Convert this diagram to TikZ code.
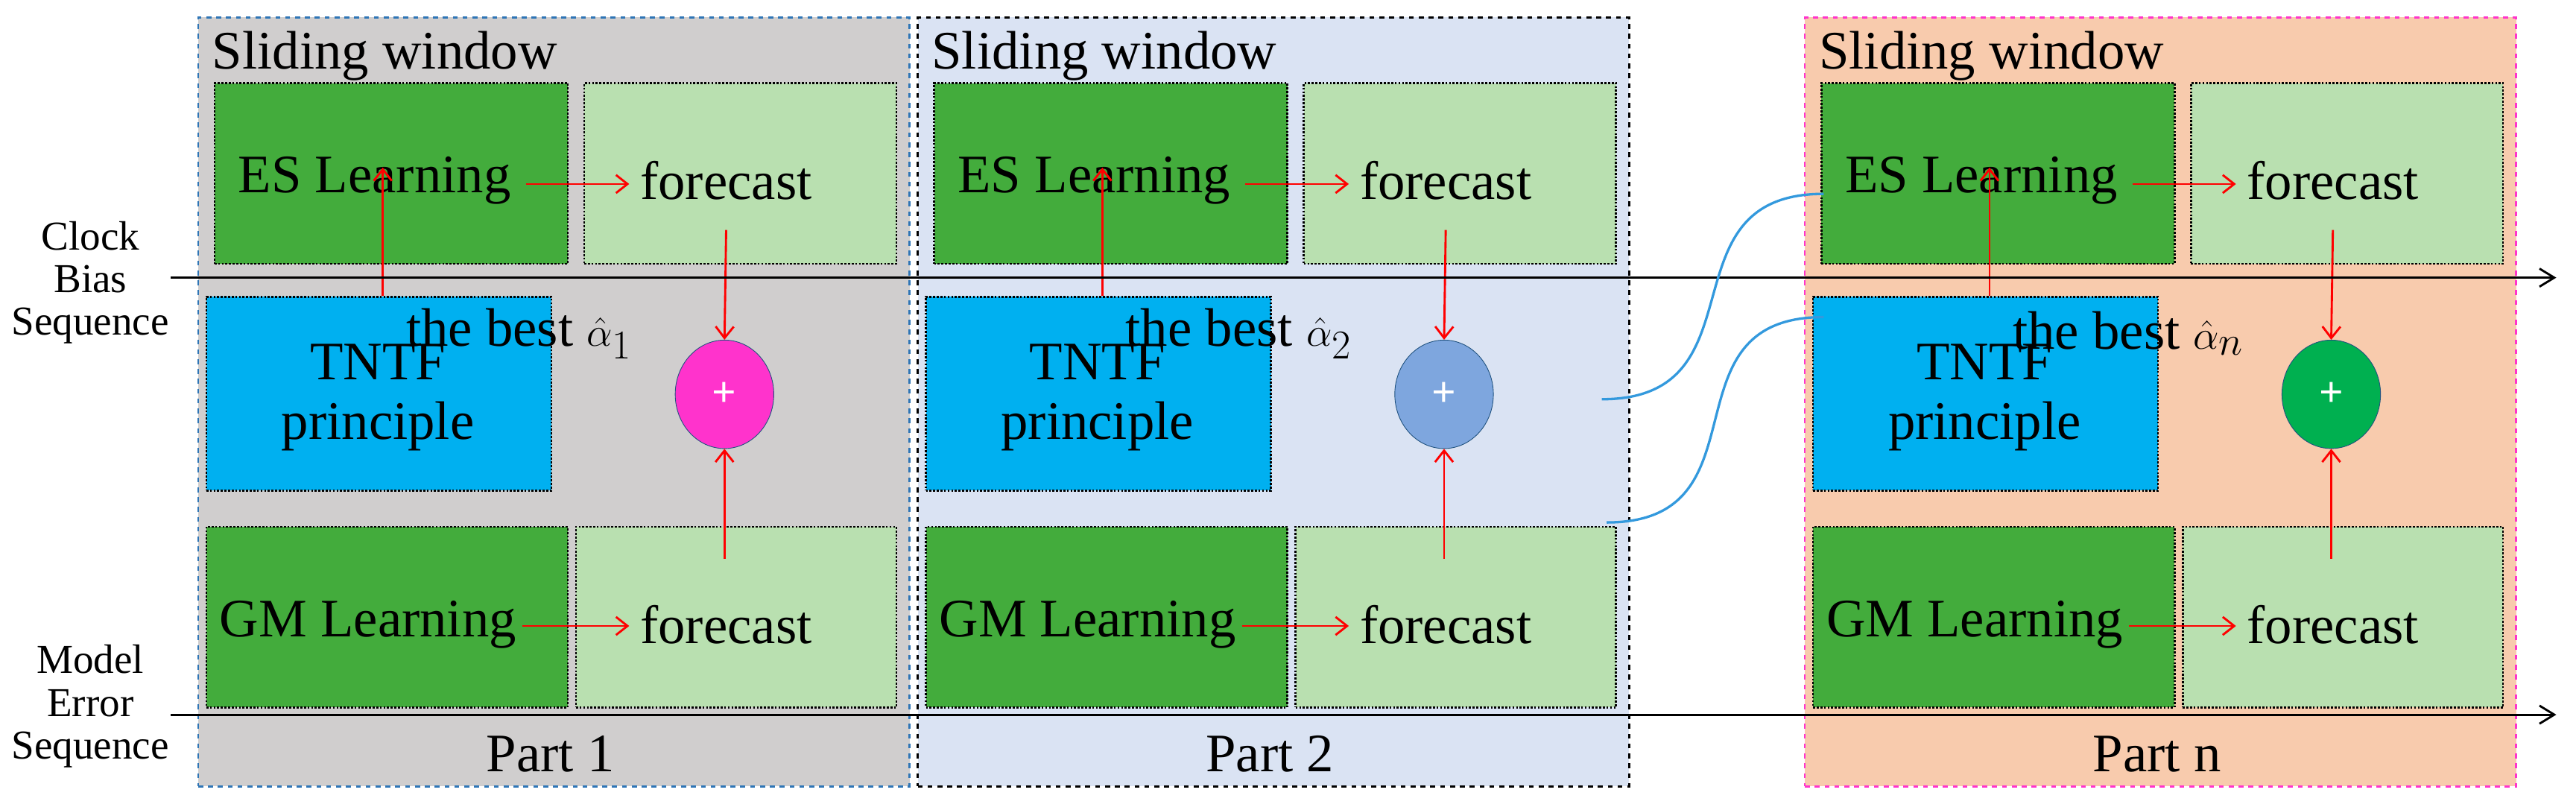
\documentclass[tikz,border=0pt]{standalone}
\usepackage{fontspec}
\setmainfont{Liberation Serif}
\usetikzlibrary{arrows.meta,shapes.geometric}
\definecolor{dg}{HTML}{43AC3C}
\definecolor{lg}{HTML}{B9E0B0}
\definecolor{cy}{HTML}{00B0F0}
\definecolor{pgray}{HTML}{D0CECE}
\definecolor{pblue}{HTML}{DAE3F3}
\definecolor{ppeach}{HTML}{F8CBAD}
\definecolor{bblue}{HTML}{2E75B6}
\definecolor{mag}{HTML}{FF33CC}
\definecolor{cblue}{HTML}{7EA6DE}
\definecolor{cgreen}{HTML}{00B050}
\definecolor{curv}{HTML}{3399DD}
\begin{document}
\begin{tikzpicture}[x=1pt,y=-1pt,
  box/.style={draw=black,densely dotted,line width=1.2pt,anchor=north west,inner sep=0pt},
  txt/.style={font=\fontsize{33}{35}\selectfont,inner sep=1pt},
  red/.style={draw=red,line width=1.3pt,-{Straight Barb[length=7pt,width=11pt]}},
  axis/.style={line width=1.3pt,-{Straight Barb[length=9pt,width=11pt]}},
  plus/.style={ellipse,minimum width=60pt,minimum height=66pt,inner sep=0pt,draw=bblue!70!black,text=white,font=\bfseries\fontsize{26}{26}\selectfont}]
\useasboundingbox (0,0) rectangle (1568,493);
\foreach \dx/\n/\pf/\pc/\cc/\lab/\sub in {0/1/pgray/bblue/mag/Part 1/1, 438/2/pblue/black/cblue/Part 2/2, 978/3/ppeach/mag/cgreen/Part n/n}{
\begin{scope}[xshift=\dx pt]
  \node[draw=\pc,dashed,line width=1.2pt,fill=\pf,minimum width=433pt,minimum height=468pt,anchor=north west] (panel\n) at (120,10) {};
  \node[txt,anchor=west] (sw\n) at (128,34) {Sliding window};
  \node[box,fill=dg,minimum width=215pt,minimum height=110pt] (es\n) at (130,50) {};
  \node[txt] (esl\n) at (228,110) {ES Learning};
  \node[box,fill=lg,minimum width=190pt,minimum height=110pt] (fa\n) at (355,50) {};
  \node[txt] (fal\n) at (442,110) {forecast};
  \node[box,fill=cy,minimum width=210pt,minimum height=118pt] (tn\n) at (125,180) {};
  \node[txt,align=center,font=\fontsize{33}{36}\selectfont] (tnl\n) at (230,242) {TNTF\\principle};
  \node[box,fill=dg,minimum width=220pt,minimum height=110pt] (gm\n) at (125,320) {};
  \node[txt] (gml\n) at (224,380) {GM Learning};
  \node[box,fill=lg,minimum width=195pt,minimum height=110pt] (fb\n) at (350,320) {};
  \node[txt] (fbl\n) at (442,380) {forecast};
  \node[plus,fill=\cc] (pl\n) at (441,240) {+};
  \node[txt,anchor=west] (best\n) at (246,203) {the best $\hat{\alpha}_{\sub}$};
  \node[txt] (part\n) at (335,459) {\lab};
  \coordinate (a\n) at (320,112); \coordinate (b\n) at (383,112);
  \draw[red] (a\n) -- (b\n);
  \coordinate (c\n) at (318,381); \coordinate (d\n) at (383,381);
  \draw[red] (c\n) -- (d\n);
  \coordinate (e\n) at (233,180); \coordinate (f\n) at (233,102);
  \draw[red] (e\n) -- (f\n);
  \coordinate (g\n) at (442,140);
  \draw[red] (g\n) -- (pl\n.north);
  \coordinate (h\n) at (441,340);
  \draw[red] (h\n) -- (pl\n.south);
\end{scope}}
\coordinate (cb0) at (104,169); \coordinate (cb1) at (1556,169);
\coordinate (me0) at (104,435); \coordinate (me1) at (1556,435);
\draw[axis] (cb0) -- (cb1);
\draw[axis] (me0) -- (me1);
\node[align=center,font=\fontsize{25}{26}\selectfont,inner sep=0pt] (cbl) at (55,172) {Clock\\Bias\\Sequence};
\node[align=center,font=\fontsize{25}{26}\selectfont,inner sep=0pt] (mel) at (55,430) {Model\\Error\\Sequence};
\coordinate (u0) at (975,243); \coordinate (u1) at (1110,118);
\coordinate (v0) at (978,318); \coordinate (v1) at (1110,193);
\draw[curv,line width=1.5pt] (u0) .. controls (1075,243) and (1010,118) .. (u1);
\draw[curv,line width=1.5pt] (v0) .. controls (1078,318) and (1010,193) .. (v1);
\end{tikzpicture}
\end{document}
